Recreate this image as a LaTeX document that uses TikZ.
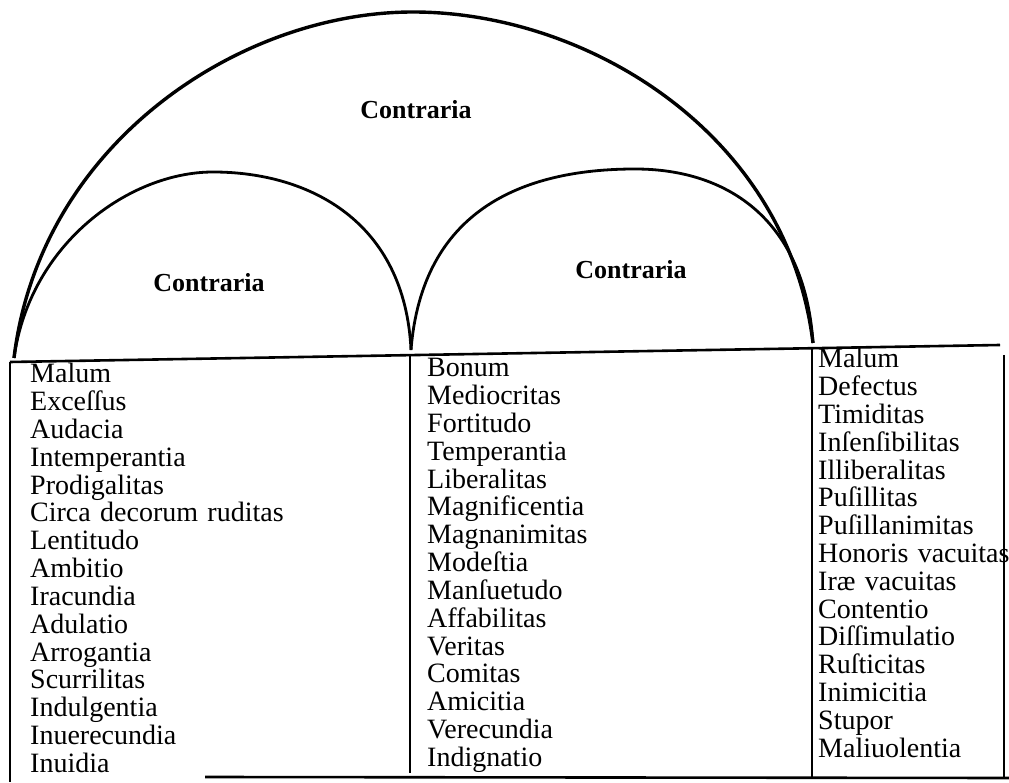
\documentclass[tikz,border=0pt]{standalone}
\usepackage{fontspec}
\setmainfont{Liberation Serif}
\usetikzlibrary{positioning}

\begin{document}
\begin{tikzpicture}[x=1pt,y=1pt,node distance=27.8pt,on grid,
  word/.style={font=\fontsize{28}{30}\selectfont,align=left,inner sep=0pt,
    text height=19pt,text depth=6pt},
  lcol/.style={word,text width=262pt},
  mcol/.style={word,text width=230pt},
  rcol/.style={word,text width=192pt},
  contra/.style={font=\fontsize{26}{28}\selectfont\bfseries},
  bigarch/.style={line width=3.4pt},
  arch/.style={line width=2.8pt},
  rule/.style={line width=2.6pt},
  post/.style={line width=1.6pt}]
\useasboundingbox (0,0) rectangle (1009,782);
\fill[white] (0,0) rectangle (1009,782);

\coordinate (foot_l) at (14,424);
\coordinate (foot_m) at (411,432);
\coordinate (foot_r) at (813,439);
\coordinate (top_c) at (413,770);
\coordinate (top_l) at (213,610);
\coordinate (top_r) at (635,613);

\coordinate (rule_w) at (10,420);
\coordinate (rule_e) at (1000,437);
\coordinate (post_lt) at (10,420);
\coordinate (post_lb) at (10,0);
\coordinate (post_mt) at (410,427);
\coordinate (post_mb) at (410,9);
\coordinate (post_rt) at (812,434);
\coordinate (post_rb) at (812,4);
\coordinate (post_et) at (1004,427);
\coordinate (post_eb) at (1004,4);
\coordinate (floor_w) at (205,5);
\coordinate (floor_e) at (1009,4);

\node[contra] (c_top) at (416,672) {Contraria};
\node[contra] (c_left) at (209,499) {Contraria};
\node[contra] (c_right) at (631,512) {Contraria};

\draw[bigarch] (foot_l) .. controls +(26,215) and +(-173,0) .. (top_c)
  .. controls +(173,0) and +(-26,211) .. (foot_r);
\draw[arch] (foot_l) .. controls +(16,115) and +(-83,0) .. (top_l)
  .. controls +(97,0) and +(-6,128) .. (foot_m);
\draw[arch] (foot_m) .. controls +(11,138) and +(-115,0) .. (top_r)
  .. controls +(95,0) and +(-8,121) .. (foot_r);

\draw[rule] (rule_w) -- (rule_e);
\draw[rule] (floor_w) -- (floor_e);
\draw[post] (post_lt) -- (post_lb);
\draw[post] (post_mt) -- (post_mb);
\draw[post] (post_rt) -- (post_rb);
\draw[post] (post_et) -- (post_eb);

%%
\node[lcol,anchor=base west] (l_0) at (30,399) {Malum};
\node[lcol] (l_1) [below=of l_0] {Exceſſus};
\node[lcol] (l_2) [below=of l_1] {Audacia};
\node[lcol] (l_3) [below=of l_2] {Intemperantia};
\node[lcol] (l_4) [below=of l_3] {Prodigalitas};
\node[lcol] (l_5) [below=of l_4] {Circa decorum ruditas};
\node[lcol] (l_6) [below=of l_5] {Lentitudo};
\node[lcol] (l_7) [below=of l_6] {Ambitio};
\node[lcol] (l_8) [below=of l_7] {Iracundia};
\node[lcol] (l_9) [below=of l_8] {Adulatio};
\node[lcol] (l_10) [below=of l_9] {Arrogantia};
\node[lcol] (l_11) [below=of l_10] {Scurrilitas};
\node[lcol] (l_12) [below=of l_11] {Indulgentia};
\node[lcol] (l_13) [below=of l_12] {Inuerecundia};
\node[lcol] (l_14) [below=of l_13] {Inuidia};

%%
\node[mcol,anchor=base west] (m_0) at (427,405) {Bonum};
\node[mcol] (m_1) [below=of m_0] {Mediocritas};
\node[mcol] (m_2) [below=of m_1] {Fortitudo};
\node[mcol] (m_3) [below=of m_2] {Temperantia};
\node[mcol] (m_4) [below=of m_3] {Liberalitas};
\node[mcol] (m_5) [below=of m_4] {Magnificentia};
\node[mcol] (m_6) [below=of m_5] {Magnanimitas};
\node[mcol] (m_7) [below=of m_6] {Modeſtia};
\node[mcol] (m_8) [below=of m_7] {Manſuetudo};
\node[mcol] (m_9) [below=of m_8] {Affabilitas};
\node[mcol] (m_10) [below=of m_9] {Veritas};
\node[mcol] (m_11) [below=of m_10] {Comitas};
\node[mcol] (m_12) [below=of m_11] {Amicitia};
\node[mcol] (m_13) [below=of m_12] {Verecundia};
\node[mcol] (m_14) [below=of m_13] {Indignatio};

%%
\node[rcol,anchor=base west] (r_0) at (818,414) {Malum};
\node[rcol] (r_1) [below=of r_0] {Defectus};
\node[rcol] (r_2) [below=of r_1] {Timiditas};
\node[rcol] (r_3) [below=of r_2] {Inſenſibilitas};
\node[rcol] (r_4) [below=of r_3] {Illiberalitas};
\node[rcol] (r_5) [below=of r_4] {Puſillitas};
\node[rcol] (r_6) [below=of r_5] {Puſillanimitas};
\node[rcol] (r_7) [below=of r_6] {Honoris vacuitas};
\node[rcol] (r_8) [below=of r_7] {Iræ vacuitas};
\node[rcol] (r_9) [below=of r_8] {Contentio};
\node[rcol] (r_10) [below=of r_9] {Diſſimulatio};
\node[rcol] (r_11) [below=of r_10] {Ruſticitas};
\node[rcol] (r_12) [below=of r_11] {Inimicitia};
\node[rcol] (r_13) [below=of r_12] {Stupor};
\node[rcol] (r_14) [below=of r_13] {Maliuolentia};
\end{tikzpicture}
\end{document}
